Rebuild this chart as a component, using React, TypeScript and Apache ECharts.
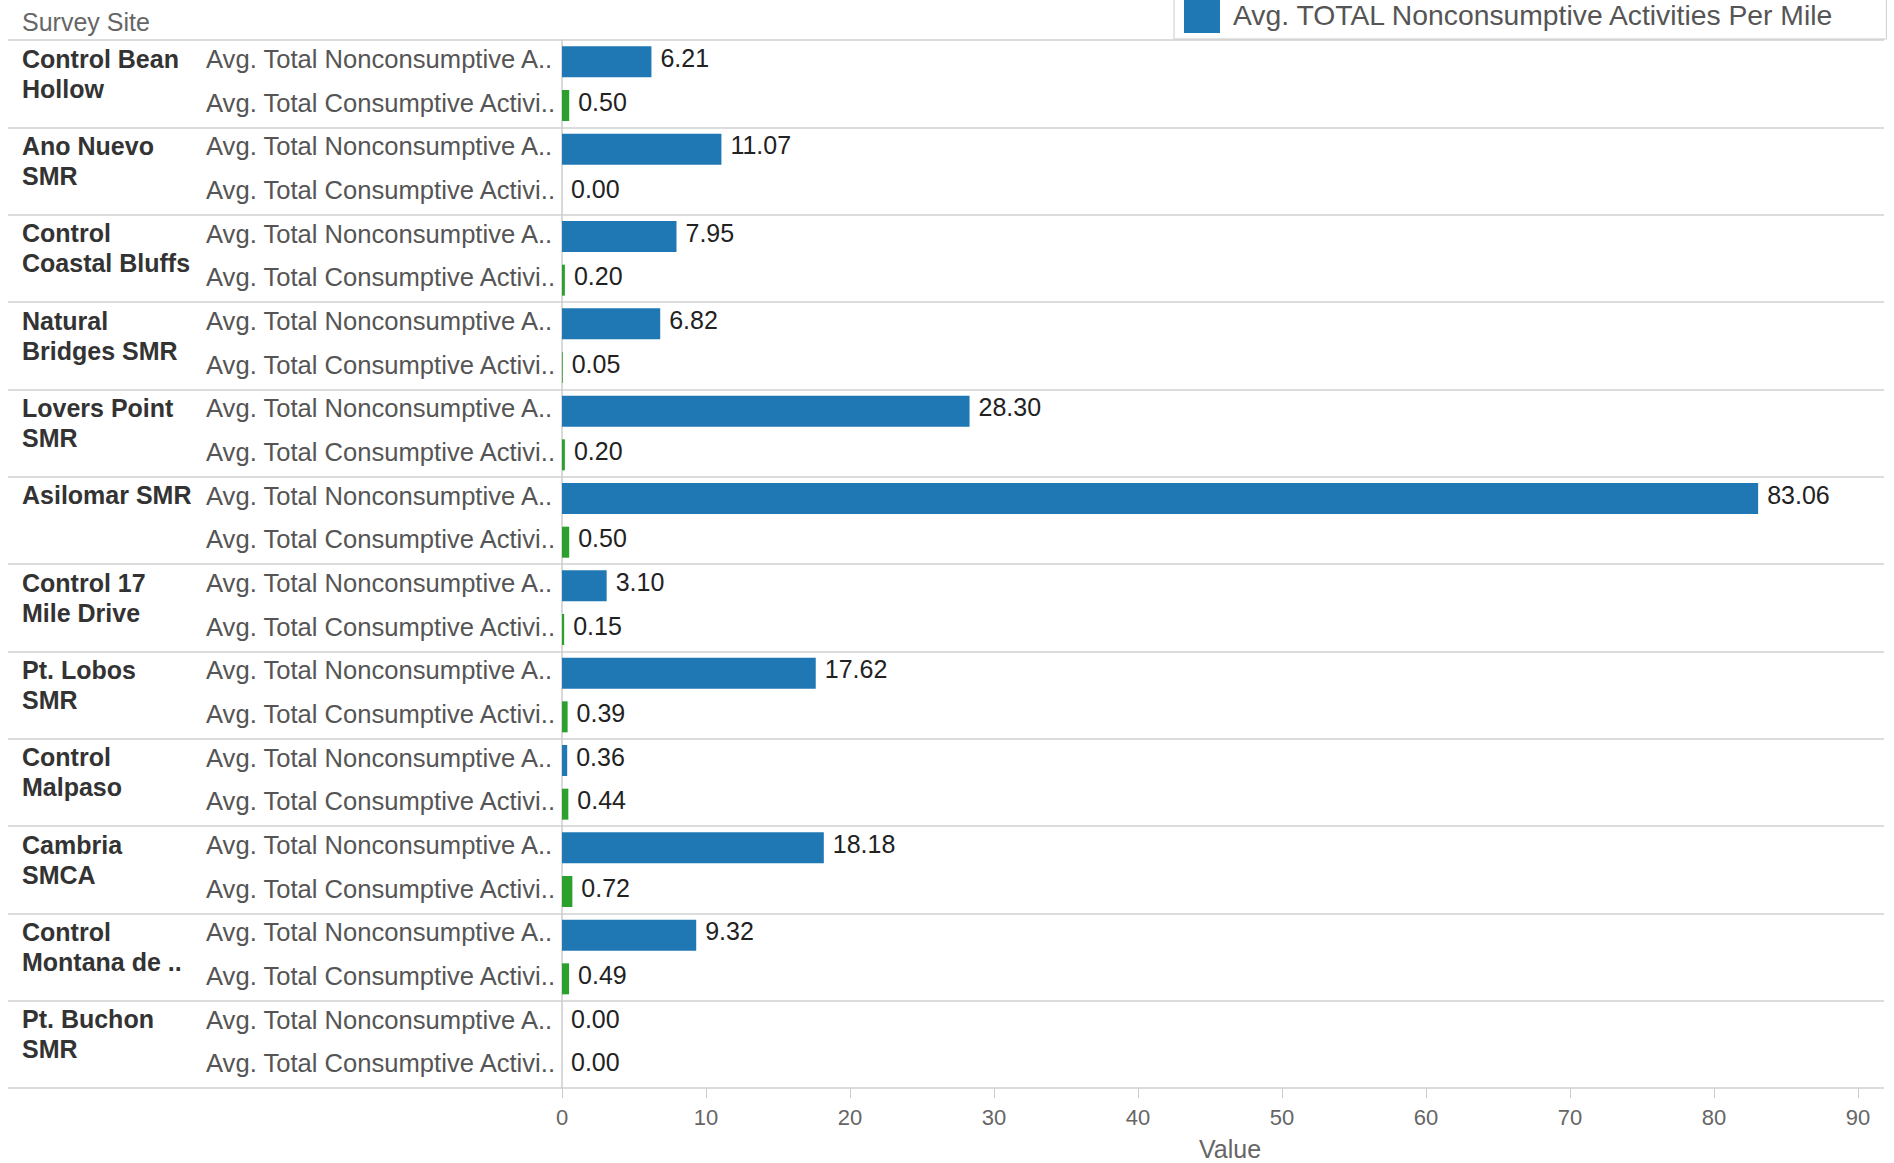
import React, { useEffect, useRef } from "react";
import * as echarts from "echarts";

const sites = [
  "Control Bean\nHollow",
  "Ano Nuevo\nSMR",
  "Control\nCoastal Bluffs",
  "Natural\nBridges SMR",
  "Lovers Point\nSMR",
  "Asilomar SMR",
  "Control 17\nMile Drive",
  "Pt. Lobos\nSMR",
  "Control\nMalpaso",
  "Cambria\nSMCA",
  "Control\nMontana de ..",
  "Pt. Buchon\nSMR",
];
const measureLabels = ["Avg. Total Nonconsumptive A..", "Avg. Total Consumptive Activi.."];
const seriesNames = [
  "Avg. TOTAL Nonconsumptive Activities Per Mile",
  "Avg. TOTAL Consumptive Activities Per Mile",
];
const nonconsumptive = [6.21, 11.07, 7.95, 6.82, 28.3, 83.06, 3.1, 17.62, 0.36, 18.18, 9.32, 0.0];
const consumptive = [0.5, 0.0, 0.2, 0.05, 0.2, 0.5, 0.15, 0.39, 0.44, 0.72, 0.49, 0.0];
const xTicks = [0, 10, 20, 30, 40, 50, 60, 70, 80, 90];
const headerText = "Survey Site";
const axisName = "Value";

const FONT = "'Liberation Sans', Arial, sans-serif";

export default function App() {
  const ref = useRef<HTMLDivElement>(null);
  useEffect(() => {
    if (!ref.current) return;
    const chart = echarts.init(ref.current, null, { renderer: "svg" });
    const rows = sites.flatMap((_, i) => [`${i}-n`, `${i}-c`]);
    const blueData = rows.map((_, r) => (r % 2 === 0 ? nonconsumptive[r / 2] : "-"));
    const greenData = rows.map((_, r) => (r % 2 === 1 ? consumptive[(r - 1) / 2] : "-"));
    const gridTop = 40;
    const gridHeight = 1048;
    const labelStyle = {
      show: true,
      position: "right",
      distance: 9,
      offset: [0, -4],
      color: "#222",
      fontSize: 25,
      fontFamily: FONT,
      formatter: (p: any) => Number(p.value).toFixed(2),
    };
    chart.setOption({
      animation: false,
      textStyle: { fontFamily: FONT },
      title: {
        text: headerText,
        left: 22,
        top: 9,
        padding: 0,
        textStyle: { fontSize: 25, color: "#666", fontWeight: "normal", fontFamily: FONT },
      },
      legend: {
        data: [seriesNames[0]],
        left: 1174,
        top: -11,
        padding: [8, 51, 6, 10],
        itemWidth: 36,
        itemHeight: 36,
        icon: "rect",
        borderColor: "#ccc",
        borderWidth: 1,
        backgroundColor: "#fff",
        textStyle: { fontSize: 28.3, color: "#555", fontFamily: FONT, padding: [0, 0, 0, 8] },
      },
      grid: [
        { left: 562, right: 10, top: gridTop, height: gridHeight, containLabel: false, outerBoundsMode: "none" },
        { left: 8, right: 10, top: gridTop, height: gridHeight, containLabel: false, outerBoundsMode: "none" },
      ],
      xAxis: [
        {
          type: "value",
          gridIndex: 0,
          min: 0,
          max: 91.8,
          interval: 10,
          axisLine: { show: false },
          splitLine: { show: false },
          axisTick: { show: true, length: 10, lineStyle: { color: "#ccc", width: 1 }, customValues: xTicks },
          axisLabel: { color: "#666", fontSize: 22, margin: 18, fontFamily: FONT, customValues: xTicks },
          name: axisName,
          nameLocation: "middle",
          nameGap: 48,
          nameTextStyle: { color: "#666", fontSize: 25, fontFamily: FONT, padding: [0, 0, 0, 14] },
        },
        { type: "value", gridIndex: 1, show: false, min: 0, max: 1 },
      ],
      yAxis: [
        {
          type: "category",
          gridIndex: 0,
          position: "left",
          data: rows,
          inverse: true,
          axisLine: { show: true, lineStyle: { color: "#ccc", width: 1.5 } },
          axisTick: { show: false },
          splitLine: { show: false },
          axisLabel: {
            interval: 0,
            align: "left",
            verticalAlign: "bottom",
            lineHeight: 6,
            margin: 356,
            color: "#555",
            fontSize: 25.6,
            fontFamily: FONT,
            formatter: (_v: string, idx: number) => measureLabels[idx % 2],
          },
        },
        {
          type: "category",
          gridIndex: 0,
          position: "left",
          offset: 0,
          data: rows,
          inverse: true,
          axisLine: { show: false },
          axisTick: { show: false },
          splitLine: { show: false },
          axisLabel: {
            interval: 0,
            align: "left",
            verticalAlign: "bottom",
            margin: 540,
            color: "#333",
            fontSize: 25,
            fontWeight: "bold",
            lineHeight: 30,
            fontFamily: FONT,
            padding: [0, 0, 2, 0],
            formatter: (_v: string, idx: number) => {
              if (idx % 2 === 0) return "";
              const s = sites[(idx - 1) / 2];
              return s.indexOf("\n") >= 0 ? s : s + "\n ";
            },
          },
        },
        {
          type: "category",
          gridIndex: 1,
          data: sites,
          inverse: true,
          axisLine: { show: false },
          axisTick: { show: false },
          axisLabel: { show: false },
          splitLine: { show: true, lineStyle: { color: "#dcdcdc", width: 2 } },
        },
      ],
      series: [
        {
          name: seriesNames[0],
          type: "bar",
          xAxisIndex: 0,
          yAxisIndex: 0,
          data: blueData,
          barWidth: 31,
          barGap: "-100%",
          itemStyle: { color: "#1f77b4" },
          label: labelStyle,
        },
        {
          name: seriesNames[1],
          type: "bar",
          xAxisIndex: 0,
          yAxisIndex: 0,
          data: greenData,
          barWidth: 31,
          barGap: "-100%",
          itemStyle: { color: "#2ca02c" },
          label: labelStyle,
        },
      ],
    });
    return () => chart.dispose();
  }, []);
  return (
    <div
      ref={ref}
      style={{ position: "absolute", left: 0, top: 0, width: 1894, height: 1163, background: "#fff" }}
    />
  );
}
